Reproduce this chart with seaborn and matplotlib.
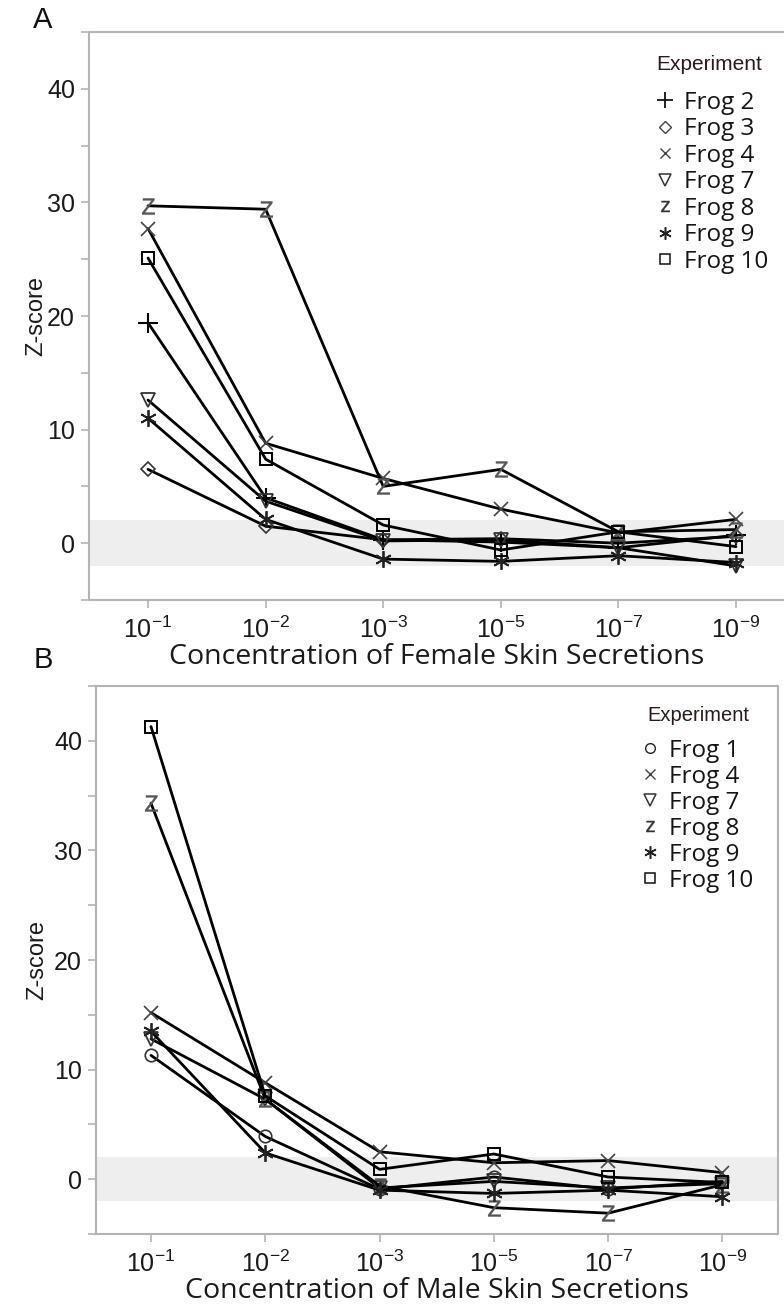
import matplotlib
matplotlib.use("Agg")
import matplotlib.pyplot as plt
import numpy as np
import pandas as pd
import seaborn as sns
from matplotlib.lines import Line2D
from matplotlib.ticker import MultipleLocator

# ---------------- data ----------------
conc_labels = [r"$\mathregular{10^{-1}}$", r"$\mathregular{10^{-2}}$", r"$\mathregular{10^{-3}}$",
               r"$\mathregular{10^{-5}}$", r"$\mathregular{10^{-7}}$", r"$\mathregular{10^{-9}}$"]

female_frogs = ["Frog 2", "Frog 3", "Frog 4", "Frog 7", "Frog 8", "Frog 9", "Frog 10"]
female_frog2 = [19.4, 4.0, 0.3, 0.1, -0.4, 0.7]
female_frog3 = [6.5, 1.5, 0.3, 0.4, 0.0, 0.6]
female_frog4 = [27.7, 8.8, 5.7, 3.0, 0.9, 2.1]
female_frog7 = [12.6, 3.7, 0.2, 0.3, -0.4, -2.0]
female_frog8 = [29.7, 29.4, 5.0, 6.5, 1.0, 1.2]
female_frog9 = [11.0, 2.1, -1.4, -1.6, -1.1, -1.7]
female_frog10 = [25.1, 7.4, 1.6, -0.6, 1.0, -0.3]
female_values = [female_frog2, female_frog3, female_frog4, female_frog7,
                 female_frog8, female_frog9, female_frog10]

male_frogs = ["Frog 1", "Frog 4", "Frog 7", "Frog 8", "Frog 9", "Frog 10"]
male_frog1 = [11.3, 3.9, -0.9, 0.2, -0.9, -0.2]
male_frog4 = [15.2, 8.8, 2.5, 1.5, 1.7, 0.6]
male_frog7 = [12.8, 7.3, -0.8, -0.2, -0.8, -0.4]
male_frog8 = [34.3, 7.3, -0.6, -2.6, -3.1, -0.5]
male_frog9 = [13.5, 2.4, -1.0, -1.3, -1.0, -1.6]
male_frog10 = [41.3, 7.6, 0.9, 2.3, 0.2, -0.3]
male_values = [male_frog1, male_frog4, male_frog7, male_frog8, male_frog9, male_frog10]

# ---------------- style ----------------
sns.set_style("white")
plt.rcParams["font.family"] = ["Liberation Sans Narrow", "Liberation Sans", "DejaVu Sans"]
plt.rcParams["mathtext.fontset"] = "custom"
plt.rcParams["mathtext.rm"] = "Liberation Sans Narrow"
plt.rcParams["mathtext.it"] = "Liberation Sans Narrow"
plt.rcParams["mathtext.bf"] = "Liberation Sans Narrow"

MK = "#333333"
marker_style = {
    "Frog 1": dict(marker="o", ms=9, mfc="none", mec=MK, mew=1.2),
    "Frog 2": dict(marker="+", ms=14, mfc="none", mec="black", mew=1.5),
    "Frog 3": dict(marker="D", ms=7.5, mfc="none", mec=MK, mew=1.2),
    "Frog 4": dict(marker="x", ms=9.5, mfc="none", mec="#444444", mew=1.2),
    "Frog 7": dict(marker="v", ms=10, mfc="none", mec=MK, mew=1.3),
    "Frog 8": dict(marker=r"$\mathregular{Z}$", ms=11.5, mfc="#555555", mec="#555555", mew=0.3),
    "Frog 9": dict(marker=(6, 2, 0), ms=12, mfc="none", mec="#222222", mew=1.3),
    "Frog 10": dict(marker="s", ms=9, mfc="none", mec="black", mew=1.4),
}
legend_marker = {
    "Frog 1": dict(marker="o", ms=7, mfc="none", mec="#222222", mew=1.0),
    "Frog 2": dict(marker="+", ms=12, mfc="none", mec="#111111", mew=1.3),
    "Frog 3": dict(marker="D", ms=6, mfc="none", mec="#444444", mew=1.0),
    "Frog 4": dict(marker="x", ms=7, mfc="none", mec="#444444", mew=1.0),
    "Frog 7": dict(marker="v", ms=8, mfc="none", mec="#333333", mew=1.1),
    "Frog 8": dict(marker=r"$\mathregular{z}$", ms=8, mfc="#333333", mec="#333333", mew=0.2),
    "Frog 9": dict(marker=(6, 2, 0), ms=9, mfc="none", mec="#222222", mew=1.1),
    "Frog 10": dict(marker="s", ms=7, mfc="none", mec="#111111", mew=1.1),
}

W, H = 784, 1314
fig = plt.figure(figsize=(W / 100, H / 100), dpi=100)
axA = fig.add_axes([89 / W, 1 - 600 / H, (784 - 89) / W, (600 - 32) / H])
axB = fig.add_axes([96 / W, 1 - 1234 / H, (778 - 96) / W, (1234 - 686) / H])

SPINE = "#b4b4b4"


def draw_panel(ax, frogs, values, xlim, xlabel, right_spine, ylabelpad):
    ax.axhspan(-2, 2, color="#eeeeee", zorder=0, lw=0)
    for frog, vals in zip(frogs, values):
        df = pd.DataFrame({"conc": np.arange(len(conc_labels)), "z": vals})
        st = marker_style[frog]
        sns.lineplot(data=df, x="conc", y="z", ax=ax, color="black", linewidth=2.0,
                     marker=st["marker"], markersize=st["ms"],
                     markerfacecolor=st["mfc"], markeredgecolor=st["mec"],
                     markeredgewidth=st["mew"], legend=False, zorder=3)
    ax.set_xlim(*xlim)
    ax.set_ylim(-5, 45)
    ax.set_xticks(np.arange(len(conc_labels)))
    ax.set_xticklabels(conc_labels)
    ax.yaxis.set_major_locator(MultipleLocator(10))
    ax.yaxis.set_minor_locator(MultipleLocator(5))
    ax.tick_params(axis="both", which="both", direction="out", length=6, width=1.2,
                   color=SPINE, labelsize=18, labelcolor="#1a1a1a", left=True, bottom=True)
    ax.tick_params(axis="y", which="major", pad=4)
    ax.tick_params(axis="x", which="major", pad=6)
    ax.set_xlabel(xlabel, fontsize=20.5, family=["Open Sans", "DejaVu Sans"], color="#1a1a1a",
                  labelpad=0)
    ax.set_ylabel("Z-score", fontsize=17, color="#1a1a1a", labelpad=ylabelpad)
    for side in ["left", "bottom", "top", "right"]:
        ax.spines[side].set_color(SPINE)
        ax.spines[side].set_linewidth(1.5)
    ax.spines["right"].set_visible(right_spine)
    ax.grid(False)


draw_panel(axA, female_frogs, female_values, (-0.502, 5.408),
           "Concentration of Female Skin Secretions", False, 0)
draw_panel(axB, male_frogs, male_values, (-0.481, 5.486),
           "Concentration of Male Skin Secretions", True, 4)


def add_legend(ax, frogs, anchor_px, fontsize, spacing):
    handles = [Line2D([], [], linestyle="none", **{k: v for k, v in legend_marker[f].items()})
               for f in frogs]
    leg = ax.legend(handles, frogs, loc="upper left",
                    bbox_to_anchor=(anchor_px[0] / W, 1 - anchor_px[1] / H),
                    bbox_transform=fig.transFigure, frameon=False,
                    prop={"family": ["Open Sans", "DejaVu Sans"], "size": fontsize},
                    handlelength=0.6, handletextpad=0.45, labelspacing=spacing,
                    borderpad=0, borderaxespad=0)
    for t in leg.get_texts():
        t.set_color("#151515")
    return leg


add_legend(axA, female_frogs, (658, 91), 17.5, 0.1)
add_legend(axB, male_frogs, (643, 739), 17.5, 0.08)

fig.text(656 / W, 1 - 65 / H, "Experiment", fontsize=15, family=["Liberation Sans", "DejaVu Sans"],
         color="#2a1a1a", ha="left", va="center")
fig.text(647 / W, 1 - 715 / H, "Experiment", fontsize=14.5, family=["Liberation Sans", "DejaVu Sans"],
         color="#2a1a1a", ha="left", va="center")

fig.text(43 / W, 1 - 20 / H, "A", fontsize=21, color="#111111", ha="center", va="center")
fig.text(43 / W, 1 - 660 / H, "B", fontsize=21, color="#111111", ha="center", va="center")

fig.savefig("out.png", dpi=100, facecolor="white")
